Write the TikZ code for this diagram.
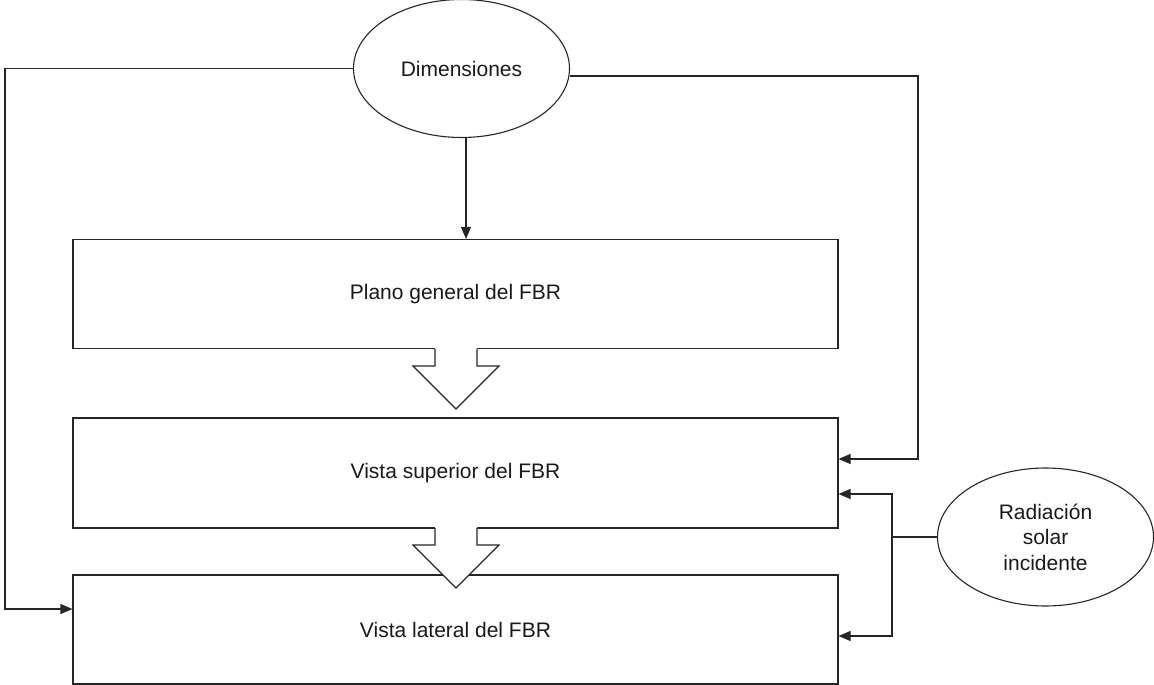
\documentclass[tikz,border=0pt]{standalone}
\usepackage{fontspec}
\setmainfont{Liberation Sans}
\usetikzlibrary{arrows.meta,shapes.geometric}

\tikzset{
  line/.style={draw=black!85, line width=1.1pt},
  arr/.style={line, -{Triangle[length=12pt,width=10pt]}},
  stage/.style={line, rectangle, minimum width=765pt, minimum height=109pt,
    inner sep=0pt, font=\fontsize{21}{25.5}\selectfont, text=black!90},
  source/.style={line, ellipse, minimum width=216pt, minimum height=138pt,
    inner sep=0pt, align=center, font=\fontsize{21}{25.5}\selectfont, text=black!90},
  pics/blockarrow/.style={code={
    \fill[white] (-21,-1.5) -- (-21,17) -- (-43,17) -- (0,60) -- (43,17) -- (21,17) -- (21,-1.5) -- cycle;
    \draw[line, line join=miter] (-21,0) -- (-21,17) -- (-43,17) -- (0,60) -- (43,17) -- (21,17) -- (21,0);
  }}
}

\begin{document}
\begin{tikzpicture}[x=1pt, y=-1pt]
  \useasboundingbox (0,0) rectangle (1154,685);

  % sources of input data
  \node[source] (dim) at (461.5,68.5) {Dimensiones};
  \node[source] (rad) at (1045.5,537) {Radiación\\solar\\incidente};

  % drawing stages
  \node[stage] (plano) at (455.5,294) {Plano general del FBR};
  \node[stage, minimum height=110pt] (sup) at (455.5,473) {Vista superior del FBR};
  \node[stage] (lat) at (455.5,629.5) {Vista lateral del FBR};

  % block arrows between stages
  \pic at (456,349) {blockarrow};
  \pic at (456,528) {blockarrow};

  % dimensions feed every stage
  \draw[arr] ([xshift=4.5pt]dim.south) -- ([xshift=4.5pt]dim.south |- plano.north);
  \coordinate (lft) at (5,609);
  \draw[arr] (dim.west) -| (lft) -- (lft -| lat.west);
  \coordinate (rgt) at (918,459);
  \draw[arr] ([yshift=-7.5pt]dim.east) -| (rgt) -- (rgt -| sup.east);

  % solar radiation feeds the top and side views
  \coordinate (jt) at (892,494);
  \coordinate (jb) at (892,636);
  \draw[line] (rad.west) -- (rad.west -| jt);
  \draw[arr] (rad.west -| jt) -- (jt) -- (jt -| sup.east);
  \draw[arr] (rad.west -| jb) -- (jb) -- (jb -| lat.east);
\end{tikzpicture}
\end{document}
